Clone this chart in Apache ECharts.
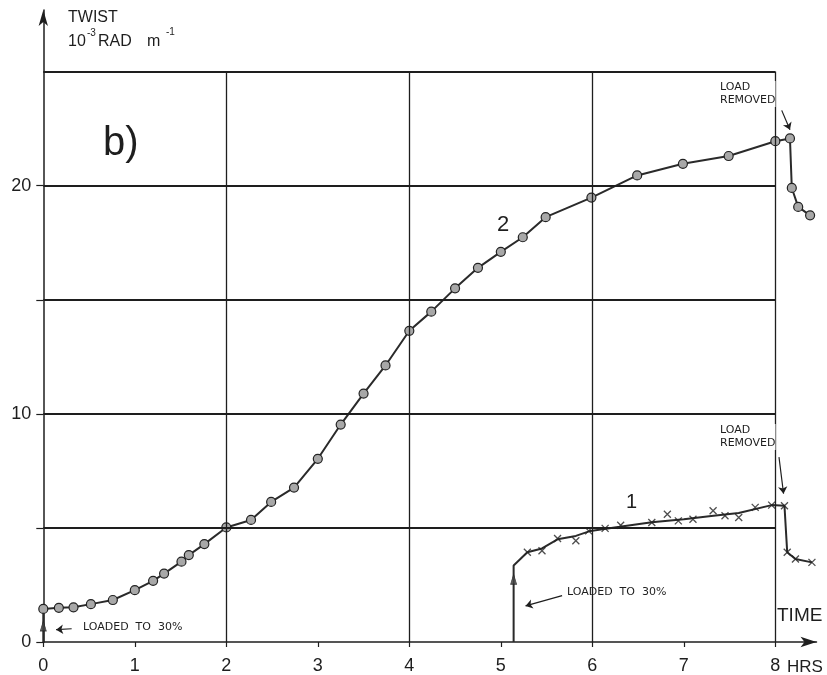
<!DOCTYPE html>
<html>
<head>
<meta charset="utf-8">
<script src="https://cdn.jsdelivr.net/npm/echarts@6/dist/echarts.min.js"></script>
<style>
html,body{margin:0;padding:0;background:#fff;}
#chart{width:827px;height:675px;}
</style>
</head>
<body>
<div id="chart"></div>
<script>
// ---- data ----
const xTickValues = [0, 1, 2, 3, 4, 5, 6, 7, 8];
const yTickValues = [0, 5, 10, 15, 20];
const yLabelValues = [0, 10, 20];
const gridRows = [5, 10, 15, 20, 25];
const gridCols = [2, 4, 6, 8];

// curve 2 (circles)
const hours2 = [0, 0, 0.17, 0.33, 0.52, 0.76, 1.0, 1.2, 1.32, 1.51, 1.59, 1.76, 2.0, 2.27, 2.49, 2.74, 3.0, 3.25, 3.5, 3.74, 4.0, 4.24, 4.5, 4.75, 5.0, 5.24, 5.49, 5.99, 6.49, 6.99, 7.49, 8.0, 8.16, 8.18, 8.25, 8.38];
const twist2 = [0, 1.45, 1.5, 1.52, 1.66, 1.84, 2.27, 2.68, 3.0, 3.52, 3.81, 4.29, 5.02, 5.35, 6.14, 6.77, 8.03, 9.53, 10.89, 12.12, 13.64, 14.48, 15.5, 16.4, 17.1, 17.74, 18.62, 19.48, 20.45, 20.96, 21.3, 21.95, 22.07, 19.9, 19.07, 18.7];

// curve 1 (drawn line)
const hours1Line = [5.14, 5.14, 5.29, 5.45, 5.62, 5.82, 5.98, 6.3, 6.65, 7.0, 7.3, 7.6, 7.96, 8.1, 8.13, 8.22, 8.4];
const twist1Line = [0, 3.35, 3.93, 4.1, 4.5, 4.65, 4.87, 5.05, 5.25, 5.38, 5.52, 5.65, 6.0, 5.97, 3.93, 3.64, 3.49];
// curve 1 (x markers)
const hours1 = [5.29, 5.45, 5.62, 5.82, 5.96, 6.14, 6.31, 6.65, 6.82, 6.94, 7.1, 7.32, 7.45, 7.6, 7.78, 7.96, 8.1, 8.13, 8.22, 8.4];
const twist1 = [3.93, 4.0, 4.54, 4.44, 4.87, 4.98, 5.12, 5.24, 5.6, 5.31, 5.38, 5.75, 5.53, 5.46, 5.9, 6.0, 5.97, 3.93, 3.64, 3.49];

// loading arrowheads on vertical rises
const loadArrowX = [0, 5.14];
const loadArrowY = [0.7, 2.75];

// annotation arrows [fromX, fromY, toX, toY]
const annotationArrows = [
  [0.31, 0.58, 0.14, 0.54],
  [5.67, 2.03, 5.27, 1.58],
  [8.07, 23.3, 8.16, 22.45],
  [8.04, 8.1, 8.09, 6.5]
];

// ---- build ----
const ink = '#1e1e1e';
const fontFam = '"Liberation Sans", Arial, sans-serif';

const s2 = hours2.map((h, i) => i === 0 ? {value: [h, twist2[i]], symbol: 'none'} : [h, twist2[i]]);
const l1 = hours1Line.map((h, i) => [h, twist1Line[i]]);
const m1 = hours1.map((h, i) => [h, twist1[i]]);
const arrowsPts = loadArrowX.map((h, i) => [h, loadArrowY[i]]);

const gridLines = [];
gridRows.forEach(v => gridLines.push([{coord: [0, v], lineStyle: {width: 1.8}}, {coord: [8, v]}]));
gridCols.forEach(v => gridLines.push([{coord: [v, 0], lineStyle: {width: 1.3}}, {coord: [v, 25]}]));

const arrowLines = annotationArrows.map(a => [{coord: [a[0], a[1]]}, {coord: [a[2], a[3]]}]);

const chart = echarts.init(document.getElementById('chart'), null, {renderer: 'canvas'});
chart.setOption({
  backgroundColor: '#fff',
  animation: false,
  grid: {left: 43.3, top: 10, width: 773.2, height: 633.3},
  xAxis: {
    type: 'value', min: 0, max: 8.45,
    axisLine: {show: true, lineStyle: {color: ink, width: 1.5}, symbol: ['none', 'arrow'], symbolSize: [8, 16], symbolOffset: [0, 0]},
    axisTick: {show: true, length: 5, customValues: xTickValues, lineStyle: {color: ink, width: 1.2}},
    axisLabel: {customValues: xTickValues, fontSize: 18, color: ink, fontFamily: fontFam, margin: 15},
    splitLine: {show: false}
  },
  yAxis: {
    type: 'value', min: 0, max: 27.7,
    axisLine: {show: true, lineStyle: {color: ink, width: 1.5}, symbol: ['none', 'arrow'], symbolSize: [7, 16]},
    axisTick: {show: true, length: 7, customValues: yTickValues, lineStyle: {color: ink, width: 1.2}},
    axisLabel: {customValues: yLabelValues, fontSize: 18, color: ink, fontFamily: fontFam, margin: 12},
    splitLine: {show: false}
  },
  series: [
    {
      type: 'line', data: [], silent: true, z: 1,
      markLine: {silent: true, symbol: 'none', animation: false, label: {show: false},
        lineStyle: {color: ink, type: 'solid', width: 1.5}, data: gridLines}
    },
    {
      type: 'line', data: [], silent: true, z: 5,
      markLine: {silent: true, symbol: ['none', 'arrow'], symbolSize: 7, animation: false, label: {show: false},
        lineStyle: {color: ink, type: 'solid', width: 1.2}, data: arrowLines}
    },
    {
      type: 'line', data: s2, z: 4, clip: false,
      lineStyle: {color: '#2a2a2a', width: 2},
      symbol: 'circle', symbolSize: 9, showAllSymbol: true,
      itemStyle: {color: '#a8a8a8', borderColor: '#222', borderWidth: 1.2}
    },
    {
      type: 'line', data: l1, z: 4, clip: false, symbol: 'none',
      lineStyle: {color: '#2a2a2a', width: 2}
    },
    {
      type: 'scatter', data: m1, z: 6, clip: false,
      symbol: 'path://M0,0 L10,10 M10,0 L0,10', symbolSize: 7,
      itemStyle: {color: 'none', borderColor: '#222', borderWidth: 1.3}
    },
    {
      type: 'scatter', data: arrowsPts, z: 6, symbol: 'triangle', symbolSize: [6, 10],
      itemStyle: {color: '#444', borderColor: '#222', borderWidth: 0.8}
    }
  ],
  graphic: [
    {type: 'text', left: 68, top: 10, style: {text: 'TWIST', font: '16px ' + fontFam, fill: ink}},
    {type: 'text', left: 68, top: 34, style: {text: '10', font: '16px ' + fontFam, fill: ink}},
    {type: 'text', left: 87, top: 28, style: {text: '-3', font: '10px ' + fontFam, fill: ink}},
    {type: 'text', left: 98, top: 34, style: {text: 'RAD', font: '16px ' + fontFam, fill: ink}},
    {type: 'text', left: 147, top: 34, style: {text: 'm', font: '16px ' + fontFam, fill: ink}},
    {type: 'text', left: 166, top: 27, style: {text: '-1', font: '10px ' + fontFam, fill: ink}},
    {type: 'text', left: 103, top: 124, style: {text: 'b)', font: '40px ' + fontFam, fill: ink}},
    {type: 'text', left: 497, top: 214, style: {text: '2', font: '22px ' + fontFam, fill: ink}},
    {type: 'text', left: 626, top: 492, style: {text: '1', font: '20px ' + fontFam, fill: ink}},
    {type: 'text', left: 720, top: 81, z: 10, style: {text: 'LOAD\nREMOVED', font: '11px "DejaVu Sans", sans-serif', lineHeight: 13, fill: ink, backgroundColor: '#fff'}},
    {type: 'text', left: 720, top: 424, z: 10, style: {text: 'LOAD\nREMOVED', font: '11px "DejaVu Sans", sans-serif', lineHeight: 13, fill: ink, backgroundColor: '#fff'}},
    {type: 'text', left: 83, top: 622, style: {text: 'LOADED  TO  30%', font: '11px "DejaVu Sans", sans-serif', fill: ink}},
    {type: 'text', left: 567, top: 587, style: {text: 'LOADED  TO  30%', font: '11px "DejaVu Sans", sans-serif', fill: ink}},
    {type: 'text', left: 777, top: 606, style: {text: 'TIME', font: '19px ' + fontFam, fill: ink}},
    {type: 'text', left: 787, top: 659, style: {text: 'HRS', font: '17px ' + fontFam, fill: ink}}
  ]
});
</script>
</body>
</html>
